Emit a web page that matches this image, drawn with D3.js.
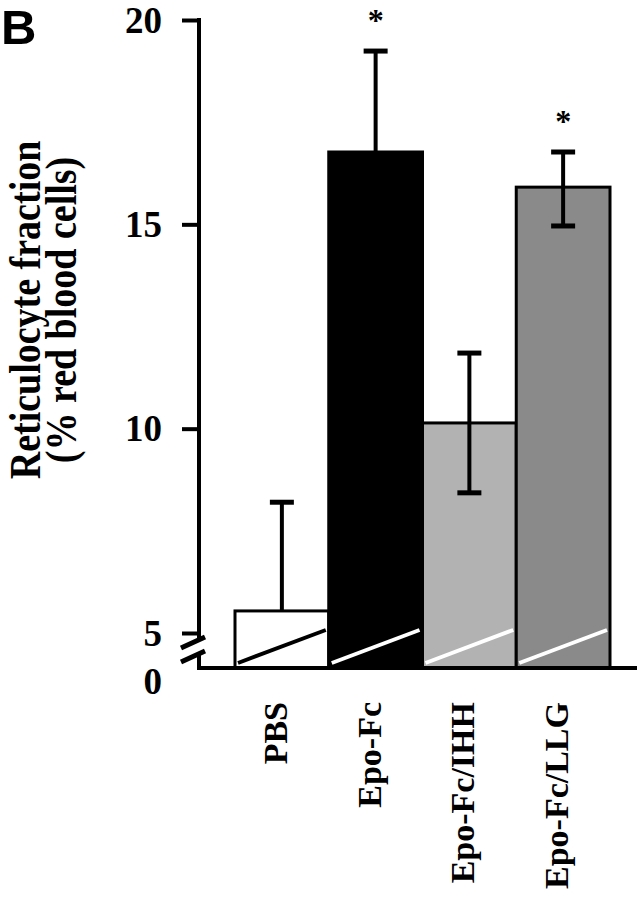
<!DOCTYPE html>
<html>
<head>
<meta charset="utf-8">
<script src="https://cdn.jsdelivr.net/npm/d3@7"></script>
<style>
  body { margin: 0; background: #fff; }
  svg text { font-family: "Liberation Serif", "Times New Roman", serif; font-weight: bold; }
</style>
</head>
<body>
<script>
//chart data
var groups = ["PBS", "Epo-Fc", "Epo-Fc/IHH", "Epo-Fc/LLG"];
var means = [5.54, 16.77, 10.14, 15.91];
var errHi = [8.2, 19.24, 11.85, 16.77];
var errLo = [null, null, 8.43, 14.96];
var starred = [false, true, false, true];
var yTicks = [5, 10, 15, 20];
var fills = ["#ffffff", "#000000", "#b2b2b2", "#8a8a8a"];
var slashColors = ["#000000", "#ffffff", "#ffffff", "#ffffff"];

window.onload = drawChart();

function drawChart() {
    var width = 639, height = 900;
    var axisX = 199,      //x of the y axis
        baseY = 668;      //the visual zero (below the break)

    var svg = d3.select("body").append("svg")
        .attr("width", width)
        .attr("height", height);

    //scales
    var y = d3.scaleLinear().domain([5, 20]).range([633, 20]);
    var x = d3.scaleBand().domain(groups).range([235, 610]).padding(0);
    var bw = x.bandwidth();

    //panel letter
    svg.append("text")
        .attr("x", 1)
        .attr("y", 44)
        .style("font-family", "'Liberation Sans', Arial, sans-serif")
        .style("font-size", "49px")
        .text("B");

    //bars
    svg.selectAll(".bar")
        .data(groups)
        .enter()
      .append("rect")
        .attr("class", "bar")
        .attr("x", function(d) { return x(d); })
        .attr("y", function(d, i) { return y(means[i]); })
        .attr("width", bw)
        .attr("height", function(d, i) { return baseY - y(means[i]); })
        .attr("fill", function(d, i) { return fills[i]; })
        .attr("stroke", "#000")
        .attr("stroke-width", 3);

    //slanted break lines inside the bars
    svg.selectAll(".slash")
        .data(groups)
        .enter()
      .append("line")
        .attr("x1", function(d) { return x(d) + 3; })
        .attr("y1", baseY - 5)
        .attr("x2", function(d) { return x(d) + bw - 3; })
        .attr("y2", baseY - 38)
        .attr("stroke", function(d, i) { return slashColors[i]; })
        .attr("stroke-width", 4);

    //error bars
    var errG = svg.selectAll(".err")
        .data(groups)
        .enter()
      .append("g")
        .attr("class", "err")
        .attr("transform", function(d) { return "translate(" + (x(d) + bw / 2) + ",0)"; });

    errG.append("line")
        .attr("x1", 0).attr("x2", 0)
        .attr("y1", function(d, i) { return y(errHi[i]); })
        .attr("y2", function(d, i) { return errLo[i] === null ? y(means[i]) : y(errLo[i]); })
        .attr("stroke", "#000")
        .attr("stroke-width", 4);

    errG.append("line")
        .attr("x1", -12).attr("x2", 12)
        .attr("y1", function(d, i) { return y(errHi[i]); })
        .attr("y2", function(d, i) { return y(errHi[i]); })
        .attr("stroke", "#000")
        .attr("stroke-width", 5);

    errG.filter(function(d, i) { return errLo[i] !== null; })
      .append("line")
        .attr("x1", -12).attr("x2", 12)
        .attr("y1", function(d) { return y(errLo[groups.indexOf(d)]); })
        .attr("y2", function(d) { return y(errLo[groups.indexOf(d)]); })
        .attr("stroke", "#000")
        .attr("stroke-width", 5);

    //significance stars
    errG.filter(function(d, i) { return starred[i]; })
      .append("text")
        .attr("text-anchor", "middle")
        .attr("y", function(d) { return y(errHi[groups.indexOf(d)]) - 20; })
        .style("font-size", "32px")
        .text("*");

    //y axis (upper part, above the break)
    var yAxis = d3.axisLeft(y)
        .tickValues(yTicks)
        .tickSize(17)
        .tickPadding(20)
        .tickFormat(d3.format("d"));

    var gy = svg.append("g")
        .attr("transform", "translate(" + axisX + ",0)")
        .call(yAxis);
    gy.select(".domain").remove();
    gy.selectAll(".tick line").attr("stroke", "#000").attr("stroke-width", 4);
    gy.selectAll(".tick text")
        .attr("fill", "#000")
        .style("font-size", "37px")
        .attr("dy", "0.33em");

    svg.append("line")
        .attr("x1", axisX).attr("x2", axisX)
        .attr("y1", y(20) - 2).attr("y2", 641)
        .attr("stroke", "#000").attr("stroke-width", 4);

    //axis below the break and the x axis
    svg.append("path")
        .attr("d", "M" + axisX + ",655 V" + baseY + " H637")
        .attr("fill", "none")
        .attr("stroke", "#000")
        .attr("stroke-width", 4);

    //break marks
    [0, 14].forEach(function(off) {
        svg.append("line")
            .attr("x1", 181).attr("y1", 648 + off)
            .attr("x2", 205).attr("y2", 637 + off)
            .attr("stroke", "#000")
            .attr("stroke-width", 5);
    });

    //zero label below the break
    svg.append("text")
        .attr("x", axisX - 37)
        .attr("y", 694)
        .attr("text-anchor", "end")
        .style("font-size", "37px")
        .text("0");

    //category labels
    svg.selectAll(".cat")
        .data(groups)
        .enter()
      .append("text")
        .attr("class", "cat")
        .attr("text-anchor", "end")
        .attr("transform", function(d) {
            return "translate(" + (x(d) + bw / 2 + 5) + ",702) rotate(-90)";
        })
        .style("font-size", "34px")
        .text(function(d) { return d; });

    //y axis title (glyphs are a bit stretched across in the figure)
    var title = svg.append("text")
        .attr("text-anchor", "middle")
        .attr("transform", "translate(0,310) rotate(-90) scale(1,1.15)")
        .style("font-size", "38px");
    title.append("tspan").attr("x", 0).attr("y", 35).text("Reticulocyte fraction");
    title.append("tspan").attr("x", 0).attr("y", 66).text("(% red blood cells)");
}
</script>
</body>
</html>
